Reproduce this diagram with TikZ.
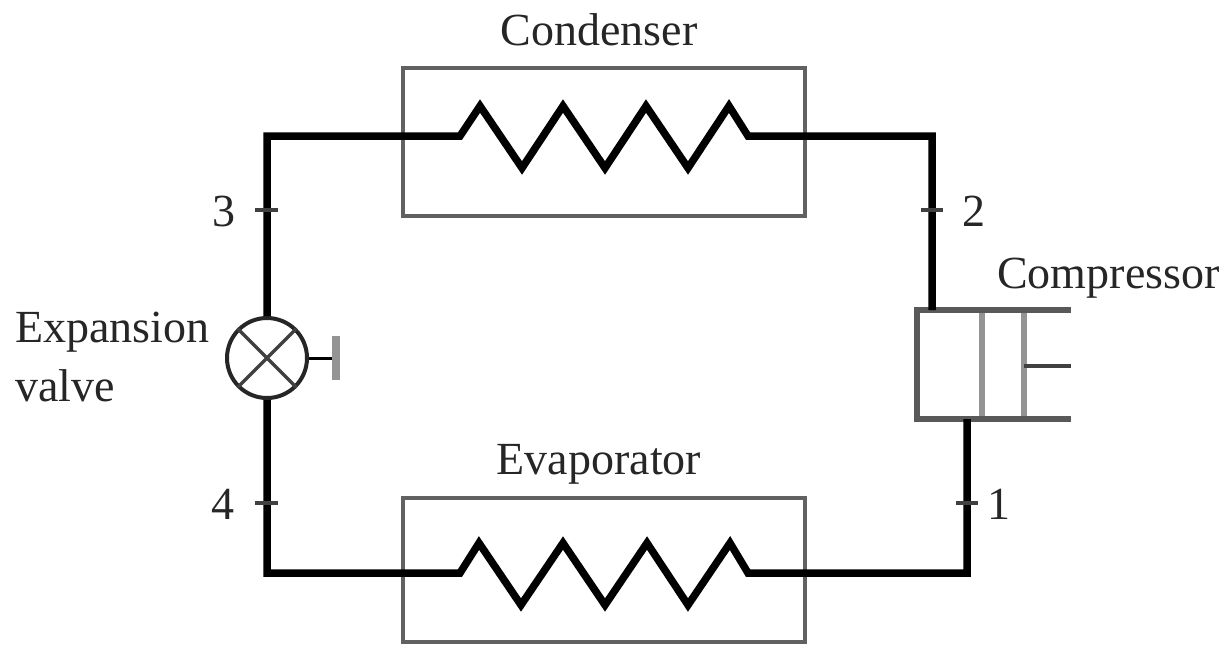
\documentclass[tikz,border=0pt]{standalone}
\usepackage{fontspec}
\setmainfont{Liberation Serif}
\begin{document}
\begin{tikzpicture}[x=1pt,y=-1pt,
  pipe/.style={line width=7.5pt,black,line join=miter},
  box/.style={draw=black!62,line width=4pt},
  cyl/.style={draw=black!65,line width=6pt,line join=miter},
  thin line/.style={draw=black!75,line width=3pt},
  divider/.style={draw=black!42,line width=6.5pt},
  tick mark/.style={draw=black!75,line width=4pt},
  lbl/.style={inner sep=0pt,font=\fontsize{46}{54}\selectfont,text=black!85}]
\useasboundingbox (0,0) rectangle (1222,645);
\path[fill=white] (0,0) rectangle (1222,645);
% boxes
\coordinate (cA) at (403,68); \coordinate (cB) at (805,216);
\coordinate (eA) at (403,498); \coordinate (eB) at (805,642);
\draw[box] (cA) rectangle (cB);
\draw[box] (eA) rectangle (eB);
% valve
\node[circle,draw=black!85,line width=4pt,minimum size=80pt,inner sep=0pt,fill=white] (valve) at (267,358) {};
\draw[thin line,line width=3.5pt] (valve.45) -- (valve.225);
\draw[thin line,line width=3.5pt] (valve.135) -- (valve.315);
\coordinate (handle) at (336,358);
\coordinate (handleT) at (336,336); \coordinate (handleB) at (336,380);
\draw[draw=black,line width=3pt] (valve.east) -- (handle);
\draw[divider,line width=8pt] (handleT) -- (handleB);
% compressor
\coordinate (pTL) at (917,310); \coordinate (pTR) at (1071,310);
\coordinate (pBL) at (917,419); \coordinate (pBR) at (1071,419);
\coordinate (d1T) at (982,310); \coordinate (d1B) at (982,419);
\coordinate (d2T) at (1024,310); \coordinate (d2B) at (1024,419);
\coordinate (rodA) at (1024,366); \coordinate (rodB) at (1071,366);
\draw[divider] (d1T) -- (d1B);
\draw[divider] (d2T) -- (d2B);
\draw[cyl] (pTR) -- (pTL) -- (pBL) -- (pBR);
\draw[thin line,line width=3.5pt] (rodA) -- (rodB);
% pipes
\coordinate (tl) at (267,136); \coordinate (tr) at (932,136);
\coordinate (bl) at (267,573); \coordinate (br) at (967,573);
\coordinate (comIn) at (932,310); \coordinate (comOut) at (967,419);
\draw[pipe] (valve.north) -- (tl) -- (460,136) -- (480,106) -- (522,168) -- (563,106) -- (605,168) -- (646,106) -- (688,168) -- (729,106) -- (748,136) -- (tr) -- (comIn);
\draw[pipe] (valve.south) -- (bl) -- (460,573) -- (479,543) -- (521,605) -- (563,543) -- (605,605) -- (647,543) -- (688,605) -- (730,543) -- (748,573) -- (br) -- (comOut);
% state ticks
\coordinate (t3a) at (255,210); \coordinate (t3b) at (278,210);
\coordinate (t2a) at (921,210); \coordinate (t2b) at (943,210);
\coordinate (t4a) at (255,503); \coordinate (t4b) at (278,503);
\coordinate (t1a) at (956,503); \coordinate (t1b) at (978,503);
\draw[tick mark] (t3a) -- (t3b);
\draw[tick mark] (t2a) -- (t2b);
\draw[tick mark] (t4a) -- (t4b);
\draw[tick mark] (t1a) -- (t1b);
% labels
\node[lbl,anchor=base] (condL) at (599,45) {Condenser};
\node[lbl,anchor=base] (evapL) at (599,474) {Evaporator};
\node[lbl,anchor=base west] (compL) at (997,288) {Compressor};
\node[lbl,anchor=base west] (expL) at (15,342) {Expansion};
\node[lbl,anchor=base west] (valL) at (15,401) {valve};
\node[lbl,anchor=base] (n3) at (224,226) {3};
\node[lbl,anchor=base] (n2) at (974,226) {2};
\node[lbl,anchor=base] (n4) at (223,519) {4};
\node[lbl,anchor=base] (n1) at (999,519) {1};
\end{tikzpicture}
\end{document}
